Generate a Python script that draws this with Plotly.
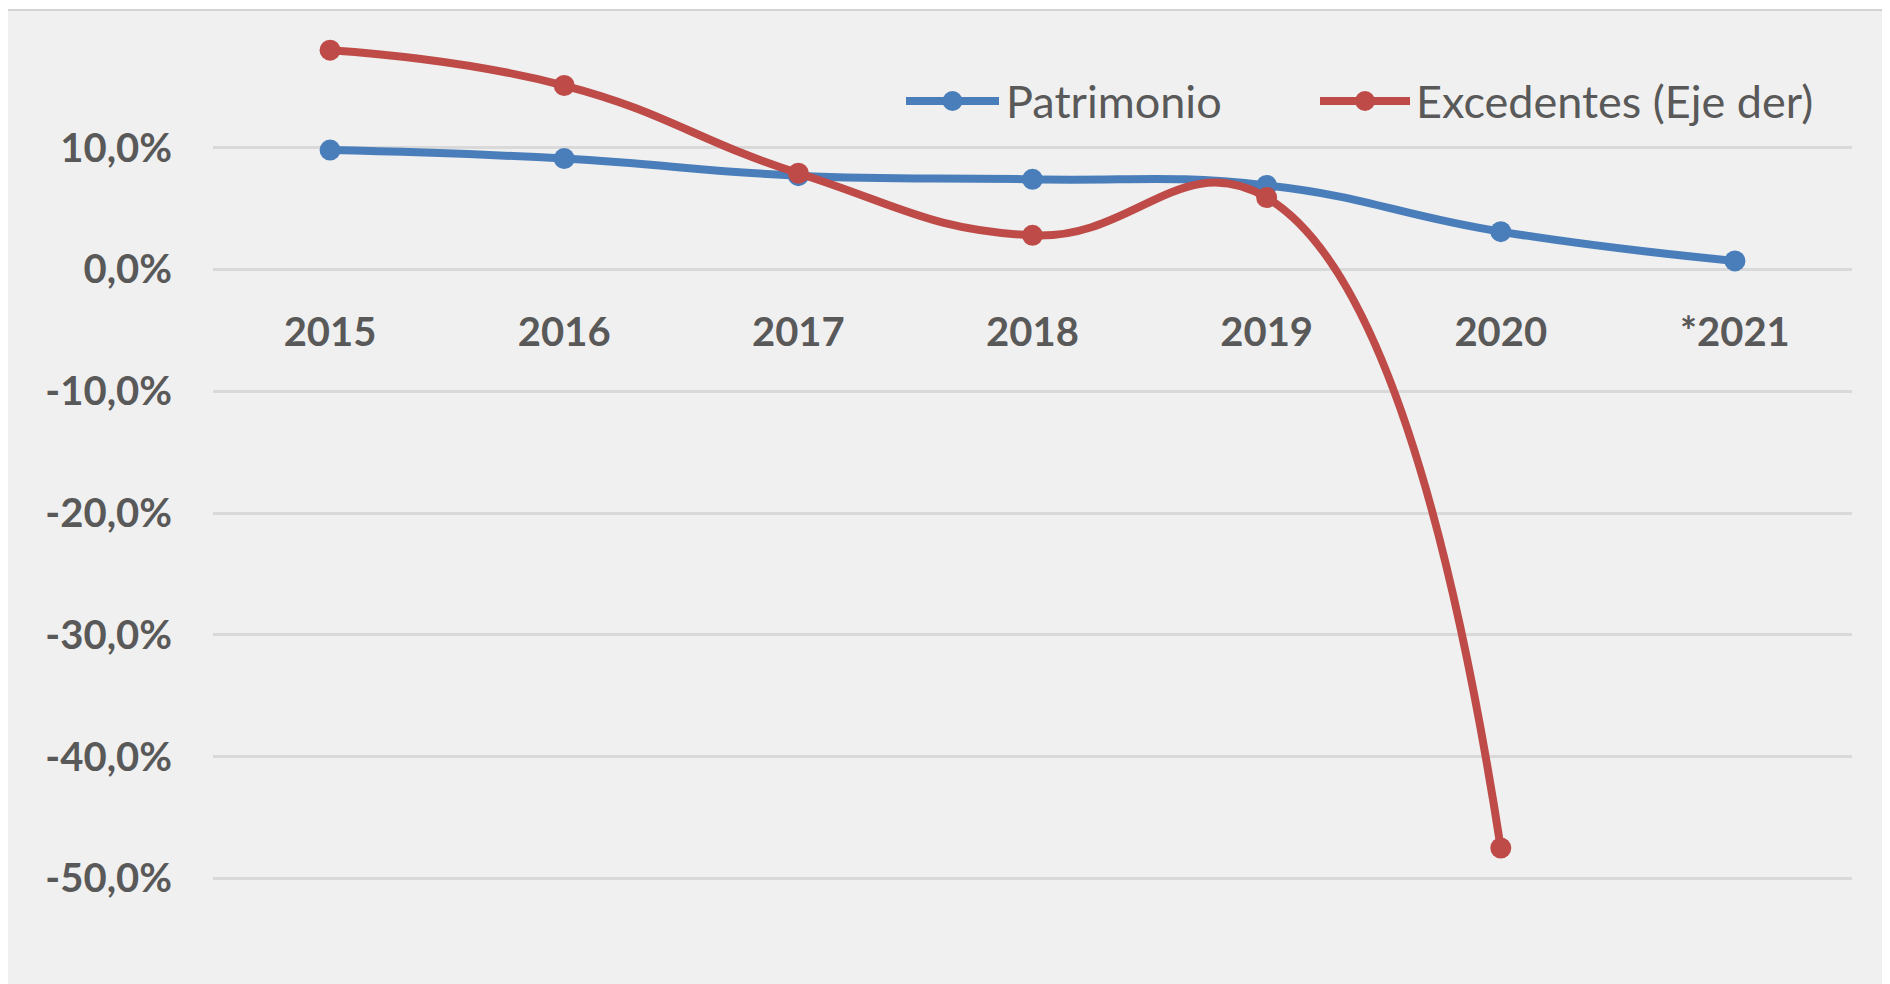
import plotly.graph_objects as go

# Data (% change)
years = ["2015", "2016", "2017", "2018", "2019", "2020", "*2021"]
patrimonio = [9.8, 9.1, 7.7, 7.4, 6.9, 3.1, 0.7]
excedentes = [18.0, 15.1, 7.9, 2.8, 5.9, -47.5]
y_ticks = [10, 0, -10, -20, -30, -40, -50]
y_tick_text = ["10,0%", "0,0%", "-10,0%", "-20,0%", "-30,0%", "-40,0%", "-50,0%"]

BLUE = "#4A7EBB"
RED = "#BE4B48"
GREY = "#595959"
FONT = "Lato"

# page body has an 8px margin, so paper coords = page coords - 8
OFF = 8
W, H = 1890, 984
ML, MR, MT, MB = 213 - OFF, 38 + OFF, 10 - OFF, 0
y_min, y_max = -59.32, 21.3

fig = go.Figure()
fig.add_trace(go.Scatter(x=years, y=patrimonio, name="Patrimonio",
                         mode="lines+markers",
                         line=dict(color=BLUE, width=8, shape="spline", smoothing=1.3),
                         marker=dict(size=21, color=BLUE)))
fig.add_trace(go.Scatter(x=years[:len(excedentes)], y=excedentes, name="Excedentes (Eje der)",
                         mode="lines+markers",
                         line=dict(color=RED, width=8, shape="spline", smoothing=1.3),
                         marker=dict(size=21, color=RED)))

# Chart frame (Excel chart area), cropped on right and bottom
pw = W - ML - MR
ph = H - MT - MB
fig.add_shape(type="rect", xref="paper", yref="paper",
              x0=(6 - OFF - ML) / pw, x1=1.2, y0=-0.2, y1=1.0,
              fillcolor="#F0F0F0", line=dict(color="#D2D2D2", width=2), layer="below")

# Custom legend (long line symbols like Excel); positions given in page px
def px_x(v):
    return (v - OFF - ML) / pw
def px_y(v):
    return (H - MB - (v - OFF)) / ph

legend_items = [("Patrimonio", BLUE, 906, 999, 1004),
                ("Excedentes (Eje der)", RED, 1320, 1410, 1414)]
for label, col, x0, x1, xt in legend_items:
    ly = px_y(101)
    fig.add_shape(type="line", xref="paper", yref="paper", x0=px_x(x0), x1=px_x(x1),
                  y0=ly, y1=ly, line=dict(color=col, width=8))
    fig.add_shape(type="circle", xref="paper", yref="paper", xsizemode="pixel", ysizemode="pixel",
                  xanchor=px_x((x0 + x1) / 2), yanchor=ly, x0=-10, x1=10, y0=-10, y1=10,
                  fillcolor=col, line=dict(color=col, width=0))
    fig.add_annotation(text=label, xref="paper", yref="paper", x=px_x(xt), y=ly,
                       xanchor="left", yanchor="middle", showarrow=False,
                       font=dict(family=FONT, size=45, color=GREY))

fig.update_layout(
    width=W, height=H,
    margin=dict(l=ML, r=MR, t=MT, b=MB),
    paper_bgcolor="white", plot_bgcolor="#F0F0F0",
    showlegend=False,
    font=dict(family=FONT, color=GREY),
)
fig.update_yaxes(range=[y_min, y_max], tickvals=y_ticks, ticktext=y_tick_text,
                 showgrid=True, gridcolor="#D9D9D9", gridwidth=2.5, zeroline=False,
                 showline=False, ticklabelstandoff=40,
                 tickfont=dict(family=FONT, size=40, color=GREY, weight="bold"))
fig.update_xaxes(type="category", range=[-0.5, 6.5], showgrid=False, zeroline=False,
                 showline=False, anchor="free", position=(0 - y_min) / (y_max - y_min),
                 ticklabelstandoff=36,
                 tickfont=dict(family=FONT, size=40, color=GREY, weight="bold"))

fig.write_html("out.html")
